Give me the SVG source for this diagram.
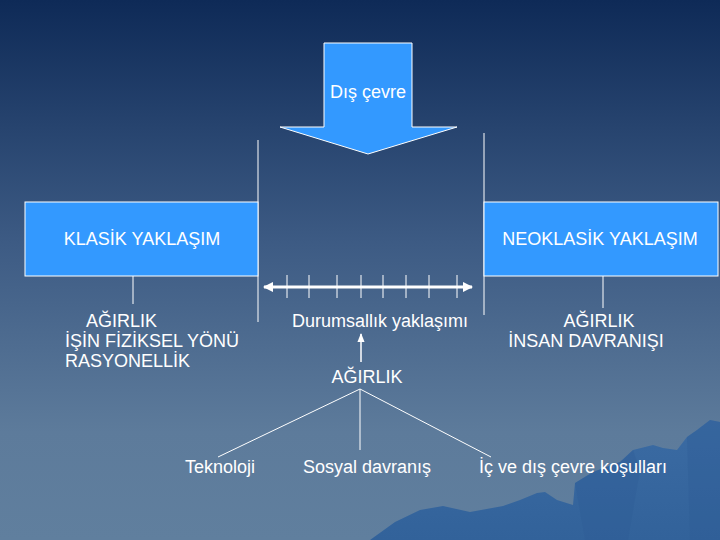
<svg xmlns="http://www.w3.org/2000/svg" width="720" height="540" viewBox="0 0 720 540">
<defs>
<linearGradient id="bg" x1="0" y1="0" x2="0" y2="1">
<stop offset="0" stop-color="#0e2a57"/>
<stop offset="0.45" stop-color="#3d5b84"/>
<stop offset="0.8" stop-color="#5d7b9b"/>
<stop offset="1" stop-color="#607f9e"/>
</linearGradient>
<linearGradient id="mt" x1="0" y1="0" x2="0" y2="1">
<stop offset="0" stop-color="#3b6ba3"/>
<stop offset="1" stop-color="#32629a"/>
</linearGradient>
<marker id="ah" viewBox="0 0 10 10" refX="9" refY="5" markerWidth="3.5" markerHeight="3.5" orient="auto-start-reverse" markerUnits="strokeWidth">
<path d="M0,0 L10,5 L0,10 z" fill="#ffffff"/>
</marker>
<marker id="ahs" viewBox="0 0 10 10" refX="9" refY="5" markerWidth="6" markerHeight="6" orient="auto" markerUnits="strokeWidth">
<path d="M0,1 L10,5 L0,9 z" fill="#ffffff"/>
</marker>
</defs>
<style>
.t{font-family:"Liberation Sans",Arial,sans-serif;font-size:18px;fill:#ffffff}
.box{fill:#3399ff;stroke:#ffffff;stroke-width:1}
.ln{stroke:#ffffff;stroke-width:1;fill:none}
</style>
<rect x="0" y="0" width="720" height="540" fill="url(#bg)"/>
<g id="mountains">
<path d="M370,540 L395,522 L420,510 L443,506 L470,512 L503,506 L520,500 L537,493 L545,492 L557,500 L573,505 L575,483 L593,472 L620,462 L633,450 L653,445 L663,448 L677,450 L687,437 L697,430 L710,420 L720,422 L720,540 Z" fill="url(#mt)"/>
<path d="M575,483 L593,472 L620,462 L633,450 L640,470 L628,540 L585,540 Z M687,437 L697,430 L710,420 L720,422 L720,540 L690,540 Z" fill="#2f5d94" opacity="0.35"/>
</g>
<g id="connectors">
<line class="ln" x1="258" y1="140" x2="258" y2="322"/>
<line class="ln" x1="484" y1="133" x2="484" y2="315"/>
<line class="ln" x1="133" y1="270" x2="133" y2="304"/>
<line class="ln" x1="603" y1="276" x2="603" y2="308"/>
<line x1="264" y1="287" x2="472" y2="287" stroke="#ffffff" stroke-width="3" marker-start="url(#ah)" marker-end="url(#ah)"/>
<g class="ln">
<line x1="287" y1="275" x2="287" y2="298"/>
<line x1="309" y1="275" x2="309" y2="298"/>
<line x1="337" y1="275" x2="337" y2="298"/>
<line x1="361" y1="275" x2="361" y2="298"/>
<line x1="383" y1="275" x2="383" y2="298"/>
<line x1="406" y1="275" x2="406" y2="298"/>
<line x1="429" y1="275" x2="429" y2="298"/>
<line x1="457" y1="275" x2="457" y2="298"/>
</g>
<line x1="361" y1="362" x2="361" y2="334" stroke="#ffffff" stroke-width="1.5" marker-end="url(#ahs)"/>
<line class="ln" x1="360" y1="389" x2="218" y2="457"/>
<line class="ln" x1="360" y1="389" x2="360" y2="450"/>
<line class="ln" x1="360" y1="389" x2="491" y2="457"/>
</g>
<g id="dis-cevre">
<path class="box" d="M324,43 L412,43 L412,127 L457,127 L368,154 L280,127 L324,127 Z"/>
<text class="t" x="368" y="98" text-anchor="middle" font-size="17">Dış çevre</text>
</g>
<g id="klasik">
<rect class="box" x="25" y="202" width="233" height="74"/>
<text class="t" x="142" y="245" text-anchor="middle">KLASİK YAKLAŞIM</text>
</g>
<g id="neoklasik">
<rect class="box" x="484" y="202" width="234" height="74"/>
<text class="t" x="600" y="245" text-anchor="middle">NEOKLASİK YAKLAŞIM</text>
</g>
<g id="klasik-agirlik">
<text class="t" x="86" y="327">AĞIRLIK</text>
<text class="t" x="65" y="347">İŞİN FİZİKSEL YÖNÜ</text>
<text class="t" x="65" y="367">RASYONELLİK</text>
</g>
<g id="neoklasik-agirlik">
<text class="t" x="599" y="327" text-anchor="middle">AĞIRLIK</text>
<text class="t" x="586" y="347" text-anchor="middle">İNSAN DAVRANIŞI</text>
</g>
<g id="durumsallik">
<text class="t" x="380" y="327" text-anchor="middle">Durumsallık yaklaşımı</text>
</g>
<g id="agirlik">
<text class="t" x="367" y="383" text-anchor="middle">AĞIRLIK</text>
</g>
<g id="teknoloji">
<text class="t" x="255" y="473" text-anchor="end">Teknoloji</text>
</g>
<g id="sosyal">
<text class="t" x="367" y="473" text-anchor="middle">Sosyal davranış</text>
</g>
<g id="ic-dis">
<text class="t" x="479" y="473">İç ve dış çevre koşulları</text>
</g>
</svg>
